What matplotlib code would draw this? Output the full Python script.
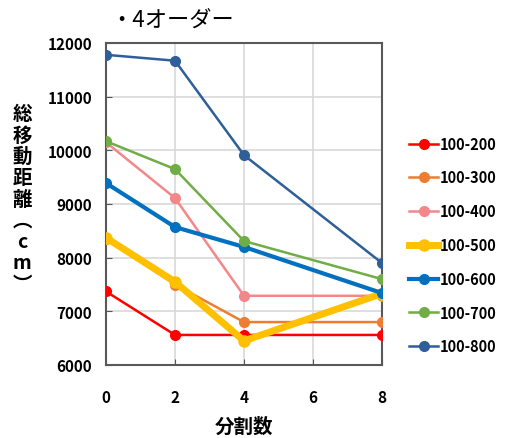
import matplotlib.pyplot as plt

plt.rcParams['font.family'] = ['Noto Sans CJK JP', 'DejaVu Sans']

divisions = [0, 2, 4, 8]
labels = ['100-200', '100-300', '100-400', '100-500', '100-600', '100-700', '100-800']
colors = ['#ff0000', '#ed7d31', '#f4878a', '#ffc000', '#0070c0', '#70ad47', '#2e5f99']
s_200 = [7370, 6560, 6560, 6560]
s_300 = [8350, 7500, 6800, 6800]
s_400 = [10150, 9110, 7290, 7290]
s_500 = [8370, 7550, 6450, 7330]
s_600 = [9390, 8570, 8200, 7340]
s_700 = [10170, 9650, 8310, 7600]
s_800 = [11780, 11670, 9910, 7900]
series = [s_200, s_300, s_400, s_500, s_600, s_700, s_800]

fig = plt.figure(figsize=(5.06, 4.39), dpi=100)
ax = fig.add_axes([106 / 506, 1 - 366 / 439, 276 / 506, 322 / 439])

for name, col, vals in zip(labels, colors, series):
    if name == '100-500':
        lw, ms = 5, 8
    elif name == '100-600':
        lw, ms = 3, 7
    else:
        lw, ms = 1.8, 7
    ax.plot(divisions, vals, color=col, lw=lw, marker='o', ms=ms,
            label=name, zorder=3, solid_joinstyle='round')

ax.set_xlim(0, 8)
ax.set_ylim(6000, 12000)
ax.set_xticks([0, 2, 4, 6, 8])
ax.set_yticks(range(6000, 12001, 1000))
ax.grid(color='#d9d9d9', lw=1.2)
ax.tick_params(direction='in', length=4, color='#555555', labelsize=11)
ax.tick_params(axis='y', pad=10)
ax.tick_params(axis='x', pad=17)
for lab in ax.get_xticklabels() + ax.get_yticklabels():
    lab.set_fontweight('bold')
for sp in ax.spines.values():
    sp.set_color('#595959')
    sp.set_linewidth(1.5)

fig.text(110 / 506, 1 - 20 / 439, '・4オーダー', fontsize=16, va='center', ha='left')
fig.text(244 / 506, 1 - 427 / 439, '分割数', fontsize=14, fontweight='bold',
         va='center', ha='center')
ylabel = '\n'.join(['総', '移', '動', '距', '離', '︵', 'c', 'm', '︶'])
fig.text(22 / 506, 1 - 200 / 439, ylabel, fontsize=14, fontweight='bold',
         va='center', ha='center', linespacing=1.15)

leg = fig.legend(loc='center left', bbox_to_anchor=(396 / 506, 1 - 246 / 439),
                 frameon=False, handlelength=2.0, handletextpad=0.12,
                 labelspacing=1.22, prop={'weight': 'bold', 'size': 10.5})

fig.savefig('out.png', dpi=100)
